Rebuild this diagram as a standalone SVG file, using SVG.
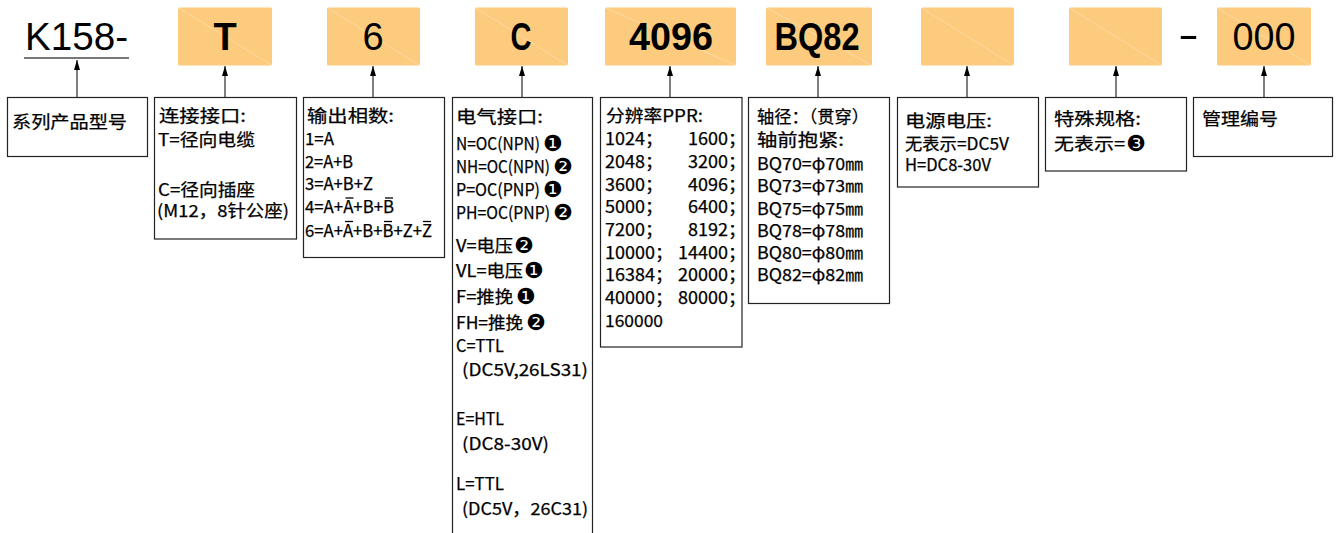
<svg xmlns="http://www.w3.org/2000/svg" width="1338" height="533" viewBox="0 0 1338 533">
<style>
.code{fill:#FCCB7E}
.diag{stroke:#fff;stroke-opacity:0.35;stroke-width:0.8}
.big{font-family:"Liberation Sans","Noto Sans",sans-serif;font-size:38px;fill:#000;text-anchor:middle}
.bold{font-weight:bold}
.box{fill:#fff;stroke:#222;stroke-width:1.2}
.t{font-family:"Noto Sans CJK SC","Noto Sans",sans-serif;font-size:17px;fill:#000;stroke:#000;stroke-width:0.25}
.c{font-family:"DejaVu Sans",sans-serif;font-size:22px;fill:#000}
.ol{stroke:#000;stroke-width:1.3}
.conn line{stroke:#555;stroke-width:1.5}
</style>
<defs>
<marker id="ah" markerUnits="userSpaceOnUse" markerWidth="10" markerHeight="6" refX="10" refY="3" orient="auto">
<path d="M0,0 L10,3 L0,6 z" fill="#000"/>
</marker>
</defs>
<rect width="1338" height="533" fill="#fff"/>

<g id="code-k158">
<text class="big" x="76.5" y="50" textLength="103" lengthAdjust="spacingAndGlyphs">K158-</text>
<line x1="24" y1="58" x2="129" y2="58" stroke="#777" stroke-width="2"/>
</g>
<g id="code-t">
<rect class="code" x="178" y="7.5" width="94" height="58" rx="1.5"/>
<line class="diag" x1="178" y1="7.5" x2="272" y2="65.5"/>
<text class="big bold" x="225" y="50">T</text>
</g>
<g id="code-6">
<rect class="code" x="327" y="7.5" width="93" height="58" rx="1.5"/>
<line class="diag" x1="327" y1="7.5" x2="420" y2="65.5"/>
<text class="big" x="373" y="50">6</text>
</g>
<g id="code-c">
<rect class="code" x="475" y="7.5" width="93" height="58" rx="1.5"/>
<line class="diag" x1="475" y1="7.5" x2="568" y2="65.5"/>
<text class="big bold" x="521" y="50" textLength="21" lengthAdjust="spacingAndGlyphs">C</text>
</g>
<g id="code-4096">
<rect class="code" x="605" y="7.5" width="131" height="58" rx="1.5"/>
<line class="diag" x1="605" y1="7.5" x2="736" y2="65.5"/>
<text class="big bold" x="671" y="50" textLength="84" lengthAdjust="spacingAndGlyphs">4096</text>
</g>
<g id="code-bq82">
<rect class="code" x="766" y="7.5" width="106" height="58" rx="1.5"/>
<line class="diag" x1="766" y1="7.5" x2="872" y2="65.5"/>
<text class="big bold" x="817" y="50" textLength="85" lengthAdjust="spacingAndGlyphs">BQ82</text>
</g>
<g id="code-blank1">
<rect class="code" x="921" y="7.5" width="93" height="58" rx="1.5"/>
<line class="diag" x1="921" y1="7.5" x2="1014" y2="65.5"/>
</g>
<g id="code-blank2">
<rect class="code" x="1069" y="7.5" width="93" height="58" rx="1.5"/>
<line class="diag" x1="1069" y1="7.5" x2="1162" y2="65.5"/>
</g>
<g id="code-dash">
<text class="big" x="1188.5" y="48" textLength="21" lengthAdjust="spacingAndGlyphs">-</text>
</g>
<g id="code-000">
<rect class="code" x="1217" y="7.5" width="94" height="58" rx="1.5"/>
<line class="diag" x1="1217" y1="7.5" x2="1311" y2="65.5"/>
<text class="big" x="1264" y="50" textLength="63" lengthAdjust="spacingAndGlyphs">000</text>
</g>

<g id="connectors" class="conn">
<line x1="77" y1="97.5" x2="77" y2="60" marker-end="url(#ah)"/>
<line x1="225" y1="97.5" x2="225" y2="66" marker-end="url(#ah)"/>
<line x1="373" y1="97.5" x2="373" y2="66" marker-end="url(#ah)"/>
<line x1="522" y1="97.5" x2="522" y2="66" marker-end="url(#ah)"/>
<line x1="670" y1="97.5" x2="670" y2="66" marker-end="url(#ah)"/>
<line x1="818" y1="97.5" x2="818" y2="66" marker-end="url(#ah)"/>
<line x1="967" y1="97.5" x2="967" y2="66" marker-end="url(#ah)"/>
<line x1="1116" y1="97.5" x2="1116" y2="66" marker-end="url(#ah)"/>
<line x1="1264" y1="97.5" x2="1264" y2="66" marker-end="url(#ah)"/>
</g>

<g id="desc-series">
<rect class="box" x="7.5" y="97.5" width="140" height="59"/>
<text class="t" x="12" y="128" textLength="115" lengthAdjust="spacingAndGlyphs">系列产品型号</text>
</g>
<g id="desc-connection">
<rect class="box" x="154.5" y="97.5" width="142" height="141.5"/>
<text class="t" x="159" y="122" textLength="87" lengthAdjust="spacingAndGlyphs">连接接口:</text>
<text class="t" x="158" y="146" textLength="97" lengthAdjust="spacingAndGlyphs">T=径向电缆</text>
<text class="t" x="158" y="196" textLength="97" lengthAdjust="spacingAndGlyphs">C=径向插座</text>
<text class="t" x="157" y="217" textLength="132" lengthAdjust="spacingAndGlyphs">(M12，8针公座)</text>
</g>
<g id="desc-phases">
<rect class="box" x="303.5" y="97.5" width="141" height="160"/>
<text class="t" x="307" y="122" textLength="87" lengthAdjust="spacingAndGlyphs">输出相数:</text>
<text class="t" x="305" y="145" textLength="29" lengthAdjust="spacingAndGlyphs">1=A</text>
<text class="t" x="305" y="168" textLength="48" lengthAdjust="spacingAndGlyphs">2=A+B</text>
<text class="t" x="305" y="190" textLength="68" lengthAdjust="spacingAndGlyphs">3=A+B+Z</text>
<text class="t" x="305" y="213" textLength="89" lengthAdjust="spacingAndGlyphs">4=A+A+B+B</text>
<line class="ol" x1="345.5" y1="198" x2="353.5" y2="198"/>
<line class="ol" x1="385" y1="198" x2="393" y2="198"/>
<text class="t" x="305" y="237" textLength="127" lengthAdjust="spacingAndGlyphs">6=A+A+B+B+Z+Z</text>
<line class="ol" x1="345" y1="221.5" x2="353" y2="221.5"/>
<line class="ol" x1="384" y1="221.5" x2="392" y2="221.5"/>
<line class="ol" x1="423" y1="221.5" x2="431" y2="221.5"/>
</g>
<g id="desc-electrical">
<rect class="box" x="452.5" y="97.5" width="140" height="450"/>
<text class="t" x="456" y="123" textLength="87" lengthAdjust="spacingAndGlyphs">电气接口:</text>
<text class="t" x="456" y="150" textLength="84" lengthAdjust="spacingAndGlyphs">N=OC(NPN)</text>
<text class="c" x="543" y="151">❶</text>
<text class="t" x="456" y="173" textLength="94" lengthAdjust="spacingAndGlyphs">NH=OC(NPN)</text>
<text class="c" x="553" y="174">❷</text>
<text class="t" x="456" y="196" textLength="84" lengthAdjust="spacingAndGlyphs">P=OC(PNP)</text>
<text class="c" x="543" y="197">❶</text>
<text class="t" x="456" y="219" textLength="94" lengthAdjust="spacingAndGlyphs">PH=OC(PNP)</text>
<text class="c" x="553" y="220">❷</text>
<text class="t" x="456" y="252" textLength="57" lengthAdjust="spacingAndGlyphs">V=电压</text>
<text class="c" x="514" y="253">❷</text>
<text class="t" x="456" y="277" textLength="67" lengthAdjust="spacingAndGlyphs">VL=电压</text>
<text class="c" x="524" y="278">❶</text>
<text class="t" x="456" y="303" textLength="57" lengthAdjust="spacingAndGlyphs">F=推挽</text>
<text class="c" x="516" y="304">❶</text>
<text class="t" x="456" y="329" textLength="67" lengthAdjust="spacingAndGlyphs">FH=推挽</text>
<text class="c" x="526" y="330">❷</text>
<text class="t" x="456" y="352" textLength="48" lengthAdjust="spacingAndGlyphs">C=TTL</text>
<text class="t" x="462" y="376" textLength="126" lengthAdjust="spacingAndGlyphs">(DC5V,26LS31)</text>
<text class="t" x="456" y="425" textLength="48" lengthAdjust="spacingAndGlyphs">E=HTL</text>
<text class="t" x="462" y="450" textLength="87" lengthAdjust="spacingAndGlyphs">(DC8-30V)</text>
<text class="t" x="456" y="490" textLength="48" lengthAdjust="spacingAndGlyphs">L=TTL</text>
<text class="t" x="462" y="515" textLength="126" lengthAdjust="spacingAndGlyphs">(DC5V，26C31)</text>
</g>
<g id="desc-resolution">
<rect class="box" x="600.5" y="97.5" width="141.5" height="249.5"/>
<text class="t" x="606" y="122" textLength="97" lengthAdjust="spacingAndGlyphs">分辨率PPR:</text>
<g class="t">
<text x="605" y="145" textLength="58" lengthAdjust="spacingAndGlyphs">1024；</text>
<text x="605" y="168" textLength="58" lengthAdjust="spacingAndGlyphs">2048；</text>
<text x="605" y="191" textLength="58" lengthAdjust="spacingAndGlyphs">3600；</text>
<text x="605" y="213" textLength="58" lengthAdjust="spacingAndGlyphs">5000；</text>
<text x="605" y="236" textLength="58" lengthAdjust="spacingAndGlyphs">7200；</text>
<text x="605" y="259" textLength="68" lengthAdjust="spacingAndGlyphs">10000；</text>
<text x="605" y="281" textLength="68" lengthAdjust="spacingAndGlyphs">16384；</text>
<text x="605" y="304" textLength="68" lengthAdjust="spacingAndGlyphs">40000；</text>
<text x="605" y="327" textLength="58" lengthAdjust="spacingAndGlyphs">160000</text>
<text x="746" y="145" text-anchor="end" textLength="58" lengthAdjust="spacingAndGlyphs">1600；</text>
<text x="746" y="168" text-anchor="end" textLength="58" lengthAdjust="spacingAndGlyphs">3200；</text>
<text x="746" y="191" text-anchor="end" textLength="58" lengthAdjust="spacingAndGlyphs">4096；</text>
<text x="746" y="213" text-anchor="end" textLength="58" lengthAdjust="spacingAndGlyphs">6400；</text>
<text x="746" y="236" text-anchor="end" textLength="58" lengthAdjust="spacingAndGlyphs">8192；</text>
<text x="746" y="259" text-anchor="end" textLength="68" lengthAdjust="spacingAndGlyphs">14400；</text>
<text x="746" y="281" text-anchor="end" textLength="68" lengthAdjust="spacingAndGlyphs">20000；</text>
<text x="746" y="304" text-anchor="end" textLength="68" lengthAdjust="spacingAndGlyphs">80000；</text>
</g>
</g>
<g id="desc-shaft">
<rect class="box" x="748.5" y="97.5" width="141" height="206"/>
<text class="t" x="757" y="123" textLength="112" lengthAdjust="spacingAndGlyphs">轴径：（贯穿）</text>
<text class="t" x="757" y="146" textLength="87" lengthAdjust="spacingAndGlyphs">轴前抱紧:</text>
<text class="t" x="757" y="170" textLength="106" lengthAdjust="spacingAndGlyphs">BQ70=φ70㎜</text>
<text class="t" x="757" y="192" textLength="106" lengthAdjust="spacingAndGlyphs">BQ73=φ73㎜</text>
<text class="t" x="757" y="215" textLength="106" lengthAdjust="spacingAndGlyphs">BQ75=φ75㎜</text>
<text class="t" x="757" y="237" textLength="106" lengthAdjust="spacingAndGlyphs">BQ78=φ78㎜</text>
<text class="t" x="757" y="259" textLength="106" lengthAdjust="spacingAndGlyphs">BQ80=φ80㎜</text>
<text class="t" x="757" y="281" textLength="106" lengthAdjust="spacingAndGlyphs">BQ82=φ82㎜</text>
</g>
<g id="desc-power">
<rect class="box" x="897.5" y="97.5" width="141" height="89.5"/>
<text class="t" x="905" y="127" textLength="87" lengthAdjust="spacingAndGlyphs">电源电压:</text>
<text class="t" x="905" y="150" textLength="104" lengthAdjust="spacingAndGlyphs">无表示=DC5V</text>
<text class="t" x="905" y="171" textLength="86" lengthAdjust="spacingAndGlyphs">H=DC8-30V</text>
</g>
<g id="desc-special">
<rect class="box" x="1045.5" y="97.5" width="141" height="73.5"/>
<text class="t" x="1054" y="125" textLength="87" lengthAdjust="spacingAndGlyphs">特殊规格:</text>
<text class="t" x="1054" y="150" textLength="71" lengthAdjust="spacingAndGlyphs">无表示=</text>
<text class="c" x="1126" y="151">❸</text>
</g>
<g id="desc-management">
<rect class="box" x="1193.5" y="97.5" width="139" height="59"/>
<text class="t" x="1202" y="125" textLength="76" lengthAdjust="spacingAndGlyphs">管理编号</text>
</g>
</svg>
